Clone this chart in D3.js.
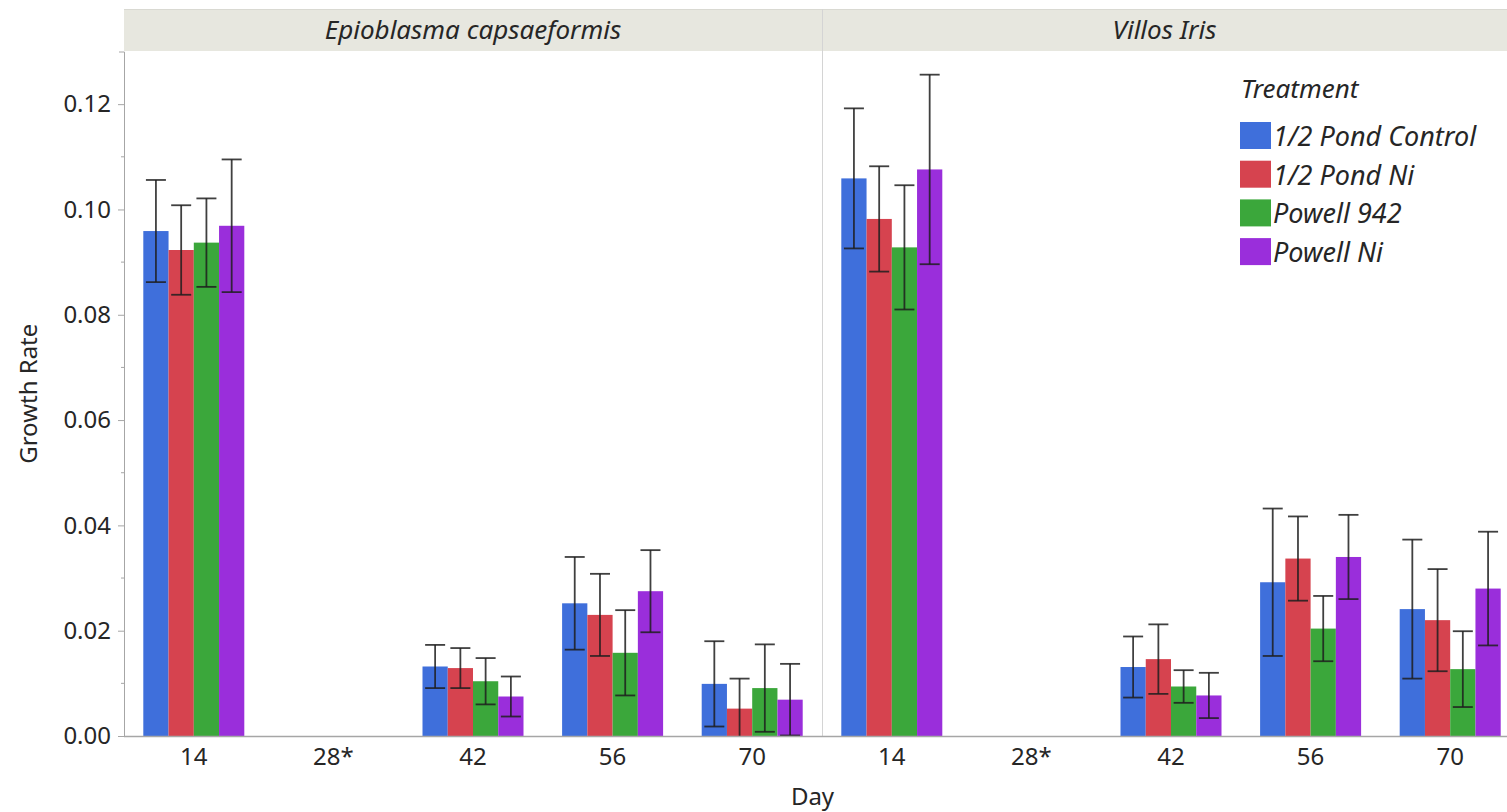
<!DOCTYPE html>
<html>
<head>
<meta charset="utf-8">
<script src="https://cdn.jsdelivr.net/npm/d3@7"></script>
<style>
  html, body { margin: 0; padding: 0; background: #ffffff; overflow: hidden; }
  svg { display: block; font-family: "Noto Sans", "Open Sans", sans-serif; }
</style>
</head>
<body>
<svg id="chart" width="1507" height="812"></svg>
<script>
// Chart data
const panels = ["Epioblasma capsaeformis", "Villos Iris"];
const days = ["14", "28*", "42", "56", "70"];
const treatments = ["1/2 Pond Control", "1/2 Pond Ni", "Powell 942", "Powell Ni"];
const colours = ["#3f6fdb", "#d6434f", "#3ba73b", "#9a2edb"];
const yTicks = [0, 0.02, 0.04, 0.06, 0.08, 0.10, 0.12];

// rows follow treatments, columns follow days (28* has no data)
const epioMeans = [
  [0.0959, null, 0.0132, 0.0252, 0.0099],
  [0.0923, null, 0.0129, 0.0230, 0.0052],
  [0.0937, null, 0.0104, 0.0158, 0.0091],
  [0.0969, null, 0.0075, 0.0275, 0.0069],
];
const epioErrors = [
  [0.0097, null, 0.0041, 0.0088, 0.0081],
  [0.0085, null, 0.0038, 0.0078, 0.0057],
  [0.0084, null, 0.0044, 0.0081, 0.0083],
  [0.0126, null, 0.0038, 0.0078, 0.0068],
];
const villosMeans = [
  [0.1059, null, 0.0131, 0.0292, 0.0241],
  [0.0982, null, 0.0146, 0.0337, 0.0220],
  [0.0928, null, 0.0094, 0.0204, 0.0127],
  [0.1076, null, 0.0077, 0.0340, 0.0280],
];
const villosErrors = [
  [0.0133, null, 0.0058, 0.0140, 0.0132],
  [0.0100, null, 0.0066, 0.0080, 0.0097],
  [0.0118, null, 0.0031, 0.0062, 0.0072],
  [0.0180, null, 0.0043, 0.0080, 0.0108],
];

// Layout
const W = 1507, H = 812;
const plot = {left: 124, top: 51.5, bottom: 736, panelWidth: 698};
const strip = {top: 9, bottom: 51};
const textColour = "#262626";
const axisColour = "#a6a6a6";
const fontFamily = "Noto Sans, Open Sans, sans-serif";

const svg = d3.select("#chart");

// Flatten the arrays into bar records
let bars = [];
[[epioMeans, epioErrors], [villosMeans, villosErrors]].forEach(([means, errs], p) => {
  treatments.forEach((t, ti) => {
    days.forEach((d, di) => {
      if (means[ti][di] === null) return;
      bars.push({panel: panels[p], treatment: t, day: d,
                 mean: means[ti][di], err: errs[ti][di], colour: colours[ti]});
    });
  });
});

// Scales
const xPanel = d3.scaleBand().domain(panels)
  .range([plot.left, plot.left + plot.panelWidth * panels.length]);
const xDay = d3.scaleBand().domain(days).range([0, plot.panelWidth]);
const groupWidth = 101;
const xTreat = d3.scaleBand().domain(treatments).range([-groupWidth / 2, groupWidth / 2]);
const y = d3.scaleLinear().domain([0, 0.13]).range([plot.bottom, plot.top]);
const dayCentre = (p, d) => xPanel(p) + xDay(d) + xDay.bandwidth() / 2;

// Header strip
const visibleRight = (p) => Math.min(W, xPanel(p) + xPanel.bandwidth());
svg.append("rect")
  .attr("x", plot.left).attr("y", strip.top)
  .attr("width", W - plot.left).attr("height", strip.bottom - strip.top)
  .attr("fill", "#e7e7df");
svg.append("line")
  .attr("x1", plot.left).attr("x2", W).attr("y1", strip.top + 0.5).attr("y2", strip.top + 0.5)
  .attr("stroke", "#d9d9d2");
svg.selectAll("text.strip").data(panels).join("text")
  .attr("class", "strip")
  .attr("x", p => (xPanel(p) + visibleRight(p)) / 2)
  .attr("y", 39)
  .attr("text-anchor", "middle")
  .attr("font-size", 26).attr("font-style", "italic")
  .attr("fill", textColour)
  .text(p => p);

// Panel divider
svg.append("line")
  .attr("x1", xPanel(panels[1]) + 0.5).attr("x2", xPanel(panels[1]) + 0.5)
  .attr("y1", strip.top).attr("y2", plot.bottom)
  .attr("stroke", "#d4d4d4");

// Bars
svg.append("g").selectAll("rect").data(bars).join("rect")
  .attr("x", d => dayCentre(d.panel, d.day) + xTreat(d.treatment))
  .attr("width", xTreat.bandwidth())
  .attr("y", d => y(d.mean))
  .attr("height", d => y(0) - y(d.mean))
  .attr("fill", d => d.colour);

// Error bars
const cap = 10;
const errG = svg.append("g")
  .attr("stroke", "#1e1e1e").attr("stroke-width", 1.8).attr("stroke-opacity", 0.85);
bars.forEach(d => {
  const cx = dayCentre(d.panel, d.day) + xTreat(d.treatment) + xTreat.bandwidth() / 2;
  const hi = d.mean + d.err;
  const lo = Math.max(0, d.mean - d.err);
  errG.append("line").attr("x1", cx).attr("x2", cx).attr("y1", y(hi)).attr("y2", y(lo));
  errG.append("line").attr("x1", cx - cap).attr("x2", cx + cap).attr("y1", y(hi)).attr("y2", y(hi));
  if (d.mean - d.err > 0) {
    errG.append("line").attr("x1", cx - cap).attr("x2", cx + cap).attr("y1", y(lo)).attr("y2", y(lo));
  }
});

// Y axis with minor ticks
const yAxis = svg.append("g")
  .attr("transform", `translate(${plot.left},0)`)
  .call(d3.axisLeft(y).tickValues(yTicks).tickFormat(d3.format(".2f"))
    .tickSize(6).tickSizeOuter(5).tickPadding(7));
yAxis.select(".domain").attr("stroke", axisColour);
yAxis.selectAll(".tick line").attr("stroke", axisColour);
yAxis.selectAll(".tick text")
  .attr("font-size", 24).attr("fill", textColour)
  .attr("font-family", fontFamily);
svg.append("g").selectAll("line").data(d3.range(0.01, 0.13, 0.02)).join("line")
  .attr("x1", plot.left - 3).attr("x2", plot.left)
  .attr("y1", d => y(d)).attr("y2", d => y(d))
  .attr("stroke", axisColour);

// X axis baseline and day labels
svg.append("line")
  .attr("x1", plot.left).attr("x2", W)
  .attr("y1", plot.bottom + 0.5).attr("y2", plot.bottom + 0.5)
  .attr("stroke", axisColour).attr("stroke-width", 1.5);
panels.forEach(p => {
  const xa = svg.append("g")
    .attr("transform", `translate(${xPanel(p)},${plot.bottom})`)
    .call(d3.axisBottom(xDay).tickSize(0).tickPadding(12));
  xa.select(".domain").remove();
  xa.selectAll(".tick text")
    .attr("font-size", 24).attr("fill", textColour)
    .attr("font-family", fontFamily);
});

// Axis titles
svg.append("text")
  .attr("x", (plot.left + W) / 2 - 3).attr("y", 805)
  .attr("text-anchor", "middle").attr("font-size", 24).attr("fill", textColour)
  .text("Day");
svg.append("text")
  .attr("transform", `translate(37,${(plot.top + plot.bottom) / 2}) rotate(-90)`)
  .attr("text-anchor", "middle").attr("font-size", 24).attr("fill", textColour)
  .text("Growth Rate");

// Legend
const legend = svg.append("g").attr("transform", "translate(1240,0)");
legend.append("text")
  .attr("x", 1).attr("y", 98)
  .attr("font-size", 26).attr("font-style", "italic").attr("fill", textColour)
  .text("Treatment");
const item = legend.selectAll("g.item").data(treatments).join("g")
  .attr("class", "item")
  .attr("transform", (t, i) => `translate(0,${122 + i * 38.7})`);
item.append("rect")
  .attr("width", 31).attr("height", 27)
  .attr("fill", (t, i) => colours[i]);
item.append("text")
  .attr("x", 33).attr("y", 24)
  .attr("font-size", 27).attr("font-style", "italic").attr("fill", textColour)
  .text(t => t);
</script>
</body>
</html>
